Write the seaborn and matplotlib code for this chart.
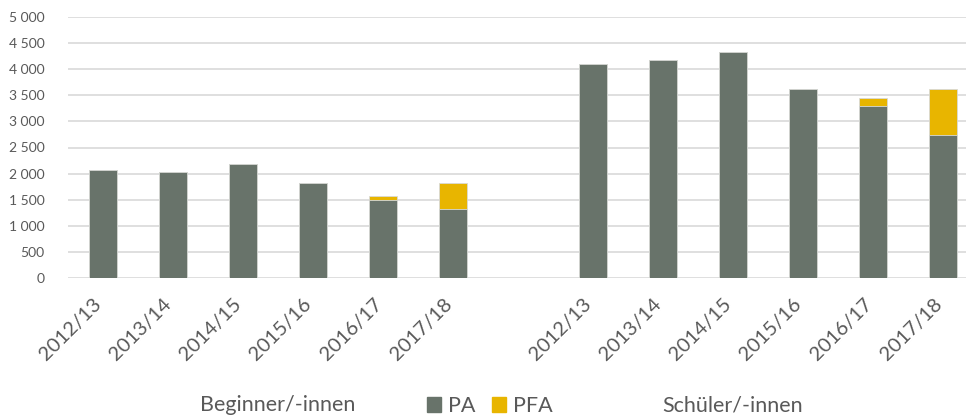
import numpy as np
import pandas as pd
import seaborn as sb
import matplotlib.pyplot as plt
import matplotlib.transforms as mtrans
from matplotlib.patches import Patch

years = ["2012/13", "2013/14", "2014/15", "2015/16", "2016/17", "2017/18"]
groups = ["Beginner/-innen", "Schüler/-innen"]
pa_beginner = [2060, 2030, 2180, 1820, 1500, 1320]
pfa_beginner = [0, 0, 0, 0, 70, 500]
pa_schueler = [4100, 4180, 4330, 3620, 3290, 2740]
pfa_schueler = [0, 0, 0, 0, 150, 880]

col_pa = "#68736a"
col_pfa = "#e8b500"
grey = "#595959"

# one empty slot between the two groups
pos = list(range(6)) + list(range(7, 13))
df = pd.DataFrame({
    "pos": pos,
    "PA": pa_beginner + pa_schueler,
    "PFA": pfa_beginner + pfa_schueler,
})
df["total"] = df["PA"] + df["PFA"]

sb.set_theme(style="white")
plt.rcParams['font.family'] = ['Lato', 'DejaVu Sans']

fig = plt.figure(figsize=(9.66, 4.16), dpi=100)
ax = fig.add_axes([68 / 966, 1 - 278 / 416, 1 - 68 / 966, 261 / 416])

order = list(range(13))
sb.barplot(data=df, x="pos", y="total", order=order, color=col_pfa, width=0.4,
           saturation=1, edgecolor="#d8dad8", linewidth=0.6, ax=ax)
sb.barplot(data=df, x="pos", y="PA", order=order, color=col_pa, width=0.4,
           saturation=1, edgecolor="#d8dad8", linewidth=0.6, ax=ax)

ax.set_ylim(0, 5000)
ax.set_xlim(-0.5, 12.5 - 12 / 70)
ax.set_yticks(np.arange(0, 5001, 500))
ax.set_yticklabels([f"{v:,}".replace(",", " ") for v in range(0, 5001, 500)],
                   fontsize=10, color=grey)
ax.yaxis.grid(True, color="#d9d9d9", linewidth=1.2)
ax.set_axisbelow(True)
for s in ax.spines.values():
    s.set_visible(False)
ax.tick_params(axis="y", length=0, pad=17)

ax.set_xticks(pos)
ax.set_xticklabels(years + years, rotation=45, ha="right", rotation_mode="anchor",
                   fontsize=14.5, color=grey)
ax.tick_params(axis="x", length=0, pad=12)
shift = mtrans.ScaledTranslation(-10 / 100, -1 / 100, fig.dpi_scale_trans)
for lbl in ax.get_xticklabels():
    lbl.set_transform(lbl.get_transform() + shift)
ax.set_xlabel("")
ax.set_ylabel("")

fig.text(278 / 966, 1 - 405 / 416, groups[0], ha="center", va="center", fontsize=15.5, color=grey)
fig.text(733 / 966, 1 - 405 / 416, groups[1], ha="center", va="center", fontsize=15.5, color=grey)

handles = [Patch(color=col_pa, label="PA"), Patch(color=col_pfa, label="PFA")]
leg = fig.legend(handles=handles, loc="center", bbox_to_anchor=(490 / 966, 1 - 406 / 416),
                 ncol=2, frameon=False, fontsize=15.5, handlelength=0.65, handleheight=0.65,
                 handletextpad=0.3, columnspacing=0.8, borderpad=0)
for t in leg.get_texts():
    t.set_color(grey)

fig.savefig("out.png", dpi=100)
